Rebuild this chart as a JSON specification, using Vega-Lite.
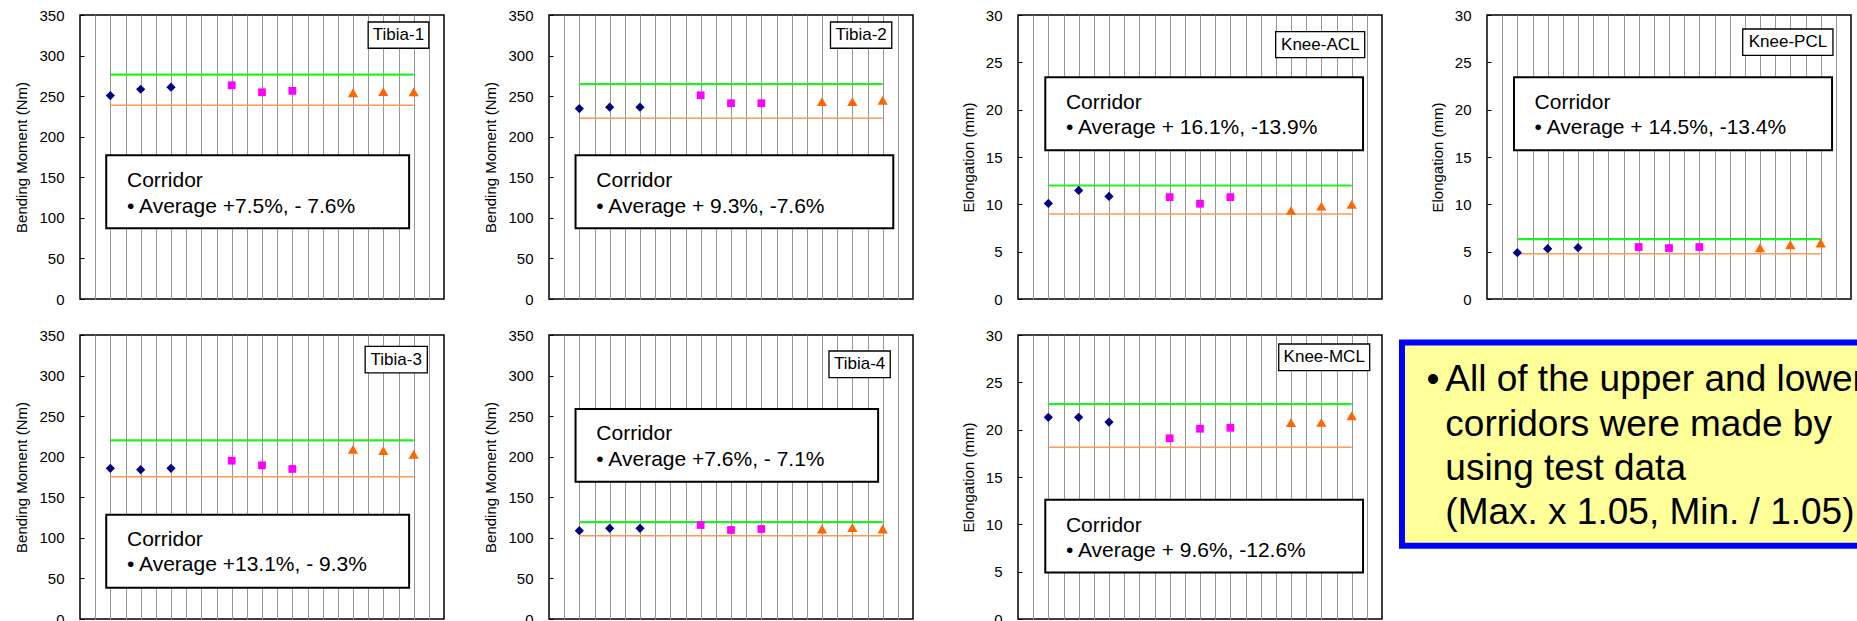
{
  "$schema": "https://vega.github.io/schema/vega-lite/v6.json",
  "padding": {"left": 14, "top": 7, "right": 0, "bottom": 0},
  "autosize": {"type": "pad"},
  "background": "#ffffff",
  "config": {
    "font": "Liberation Sans",
    "view": {"stroke": "#000000", "strokeWidth": 1.5},
    "axisX": {"gridColor": "#969696", "gridWidth": 1, "gridOpacity": 1},
    "axisY": {
      "grid": false, "domain": false,
      "tickSize": -4, "tickColor": "#000000", "tickWidth": 1,
      "labelPadding": 20, "labelFontSize": 15, "labelColor": "#000000",
      "titleFontSize": 15, "titleFontWeight": "normal", "titleColor": "#000000", "titlePadding": 9
    }
  },
  "data": {"values": [
    {"panel": "Tibia-1", "kind": "obs", "series": "A", "x": 2, "y": 250.7},
    {"panel": "Tibia-1", "kind": "obs", "series": "A", "x": 4, "y": 258.5},
    {"panel": "Tibia-1", "kind": "obs", "series": "A", "x": 6, "y": 261.0},
    {"panel": "Tibia-1", "kind": "obs", "series": "B", "x": 10, "y": 263.4},
    {"panel": "Tibia-1", "kind": "obs", "series": "B", "x": 12, "y": 254.8},
    {"panel": "Tibia-1", "kind": "obs", "series": "B", "x": 14, "y": 256.5},
    {"panel": "Tibia-1", "kind": "obs", "series": "C", "x": 18, "y": 254.2},
    {"panel": "Tibia-1", "kind": "obs", "series": "C", "x": 20, "y": 255.5},
    {"panel": "Tibia-1", "kind": "obs", "series": "C", "x": 22, "y": 255.3},
    {"panel": "Tibia-1", "kind": "upper", "x": 2, "x2": 22, "y": 276.6},
    {"panel": "Tibia-1", "kind": "lower", "x": 2, "x2": 22, "y": 238.8},
    {"panel": "Tibia-1", "kind": "box", "x": 1.73, "x2": 21.7, "y": 177.1, "y2": 87.1},
    {"panel": "Tibia-1", "kind": "note", "x": 3.1, "y": 137.7, "label": "Corridor"},
    {"panel": "Tibia-1", "kind": "note", "x": 3.1, "y": 106.4, "label": "• Average +7.5%, - 7.6%"},
    {"panel": "Tibia-1", "kind": "tag", "x": 19.0, "x2": 23.0, "y": 341.4, "y2": 309.0},
    {"panel": "Tibia-1", "kind": "tagtext", "x": 21.0, "y": 325.2, "label": "Tibia-1"},

    {"panel": "Tibia-2", "kind": "obs", "series": "A", "x": 2, "y": 234.7},
    {"panel": "Tibia-2", "kind": "obs", "series": "A", "x": 4, "y": 236.4},
    {"panel": "Tibia-2", "kind": "obs", "series": "A", "x": 6, "y": 236.4},
    {"panel": "Tibia-2", "kind": "obs", "series": "B", "x": 10, "y": 251.1},
    {"panel": "Tibia-2", "kind": "obs", "series": "B", "x": 12, "y": 241.3},
    {"panel": "Tibia-2", "kind": "obs", "series": "B", "x": 14, "y": 241.3},
    {"panel": "Tibia-2", "kind": "obs", "series": "C", "x": 18, "y": 243.3},
    {"panel": "Tibia-2", "kind": "obs", "series": "C", "x": 20, "y": 243.3},
    {"panel": "Tibia-2", "kind": "obs", "series": "C", "x": 22, "y": 244.8},
    {"panel": "Tibia-2", "kind": "upper", "x": 2, "x2": 22, "y": 264.7},
    {"panel": "Tibia-2", "kind": "lower", "x": 2, "x2": 22, "y": 222.8},
    {"panel": "Tibia-2", "kind": "box", "x": 1.75, "x2": 22.7, "y": 177.1, "y2": 87.1},
    {"panel": "Tibia-2", "kind": "note", "x": 3.12, "y": 137.7, "label": "Corridor"},
    {"panel": "Tibia-2", "kind": "note", "x": 3.12, "y": 106.4, "label": "• Average + 9.3%, -7.6%"},
    {"panel": "Tibia-2", "kind": "tag", "x": 18.56, "x2": 22.6, "y": 341.4, "y2": 309.0},
    {"panel": "Tibia-2", "kind": "tagtext", "x": 20.58, "y": 325.2, "label": "Tibia-2"},

    {"panel": "Knee-ACL", "kind": "obs", "series": "A", "x": 2, "y": 10.09},
    {"panel": "Knee-ACL", "kind": "obs", "series": "A", "x": 4, "y": 11.47},
    {"panel": "Knee-ACL", "kind": "obs", "series": "A", "x": 6, "y": 10.83},
    {"panel": "Knee-ACL", "kind": "obs", "series": "B", "x": 10, "y": 10.76},
    {"panel": "Knee-ACL", "kind": "obs", "series": "B", "x": 12, "y": 10.06},
    {"panel": "Knee-ACL", "kind": "obs", "series": "B", "x": 14, "y": 10.76},
    {"panel": "Knee-ACL", "kind": "obs", "series": "C", "x": 18, "y": 9.36},
    {"panel": "Knee-ACL", "kind": "obs", "series": "C", "x": 20, "y": 9.81},
    {"panel": "Knee-ACL", "kind": "obs", "series": "C", "x": 22, "y": 9.99},
    {"panel": "Knee-ACL", "kind": "upper", "x": 2, "x2": 22, "y": 11.99},
    {"panel": "Knee-ACL", "kind": "lower", "x": 2, "x2": 22, "y": 8.97},
    {"panel": "Knee-ACL", "kind": "box", "x": 1.8, "x2": 22.75, "y": 23.42, "y2": 15.71},
    {"panel": "Knee-ACL", "kind": "note", "x": 3.16, "y": 20.07, "label": "Corridor"},
    {"panel": "Knee-ACL", "kind": "note", "x": 3.16, "y": 17.4, "label": "• Average + 16.1%, -13.9%"},
    {"panel": "Knee-ACL", "kind": "tag", "x": 16.99, "x2": 22.86, "y": 28.24, "y2": 25.49},
    {"panel": "Knee-ACL", "kind": "tagtext", "x": 19.93, "y": 26.87, "label": "Knee-ACL"},

    {"panel": "Knee-PCL", "kind": "obs", "series": "A", "x": 2, "y": 4.89},
    {"panel": "Knee-PCL", "kind": "obs", "series": "A", "x": 4, "y": 5.31},
    {"panel": "Knee-PCL", "kind": "obs", "series": "A", "x": 6, "y": 5.42},
    {"panel": "Knee-PCL", "kind": "obs", "series": "B", "x": 10, "y": 5.49},
    {"panel": "Knee-PCL", "kind": "obs", "series": "B", "x": 12, "y": 5.38},
    {"panel": "Knee-PCL", "kind": "obs", "series": "B", "x": 14, "y": 5.49},
    {"panel": "Knee-PCL", "kind": "obs", "series": "C", "x": 18, "y": 5.42},
    {"panel": "Knee-PCL", "kind": "obs", "series": "C", "x": 20, "y": 5.73},
    {"panel": "Knee-PCL", "kind": "obs", "series": "C", "x": 22, "y": 5.91},
    {"panel": "Knee-PCL", "kind": "upper", "x": 2, "x2": 22, "y": 6.33},
    {"panel": "Knee-PCL", "kind": "lower", "x": 2, "x2": 22, "y": 4.78},
    {"panel": "Knee-PCL", "kind": "box", "x": 1.78, "x2": 22.75, "y": 23.42, "y2": 15.71},
    {"panel": "Knee-PCL", "kind": "note", "x": 3.14, "y": 20.07, "label": "Corridor"},
    {"panel": "Knee-PCL", "kind": "note", "x": 3.14, "y": 17.4, "label": "• Average + 14.5%, -13.4%"},
    {"panel": "Knee-PCL", "kind": "tag", "x": 16.86, "x2": 22.81, "y": 28.52, "y2": 25.74},
    {"panel": "Knee-PCL", "kind": "tagtext", "x": 19.84, "y": 27.13, "label": "Knee-PCL"},

    {"panel": "Tibia-3", "kind": "obs", "series": "A", "x": 2, "y": 185.7},
    {"panel": "Tibia-3", "kind": "obs", "series": "A", "x": 4, "y": 184.0},
    {"panel": "Tibia-3", "kind": "obs", "series": "A", "x": 6, "y": 185.7},
    {"panel": "Tibia-3", "kind": "obs", "series": "B", "x": 10, "y": 195.1},
    {"panel": "Tibia-3", "kind": "obs", "series": "B", "x": 12, "y": 189.4},
    {"panel": "Tibia-3", "kind": "obs", "series": "B", "x": 14, "y": 184.9},
    {"panel": "Tibia-3", "kind": "obs", "series": "C", "x": 18, "y": 209.1},
    {"panel": "Tibia-3", "kind": "obs", "series": "C", "x": 20, "y": 207.5},
    {"panel": "Tibia-3", "kind": "obs", "series": "C", "x": 22, "y": 202.9},
    {"panel": "Tibia-3", "kind": "upper", "x": 2, "x2": 22, "y": 220.2},
    {"panel": "Tibia-3", "kind": "lower", "x": 2, "x2": 22, "y": 175.4},
    {"panel": "Tibia-3", "kind": "box", "x": 1.73, "x2": 21.7, "y": 128.5, "y2": 38.6},
    {"panel": "Tibia-3", "kind": "note", "x": 3.1, "y": 90.0, "label": "Corridor"},
    {"panel": "Tibia-3", "kind": "note", "x": 3.1, "y": 59.2, "label": "• Average +13.1%, - 9.3%"},
    {"panel": "Tibia-3", "kind": "tag", "x": 18.8, "x2": 22.9, "y": 335.9, "y2": 303.2},
    {"panel": "Tibia-3", "kind": "tagtext", "x": 20.85, "y": 319.5, "label": "Tibia-3"},

    {"panel": "Tibia-4", "kind": "obs", "series": "A", "x": 2, "y": 108.9},
    {"panel": "Tibia-4", "kind": "obs", "series": "A", "x": 4, "y": 111.7},
    {"panel": "Tibia-4", "kind": "obs", "series": "A", "x": 6, "y": 111.7},
    {"panel": "Tibia-4", "kind": "obs", "series": "B", "x": 10, "y": 115.8},
    {"panel": "Tibia-4", "kind": "obs", "series": "B", "x": 12, "y": 109.7},
    {"panel": "Tibia-4", "kind": "obs", "series": "B", "x": 14, "y": 110.9},
    {"panel": "Tibia-4", "kind": "obs", "series": "C", "x": 18, "y": 110.9},
    {"panel": "Tibia-4", "kind": "obs", "series": "C", "x": 20, "y": 112.6},
    {"panel": "Tibia-4", "kind": "obs", "series": "C", "x": 22, "y": 110.9},
    {"panel": "Tibia-4", "kind": "upper", "x": 2, "x2": 22, "y": 119.5},
    {"panel": "Tibia-4", "kind": "lower", "x": 2, "x2": 22, "y": 102.7},
    {"panel": "Tibia-4", "kind": "box", "x": 1.75, "x2": 21.7, "y": 258.8, "y2": 169.2},
    {"panel": "Tibia-4", "kind": "note", "x": 3.12, "y": 220.6, "label": "Corridor"},
    {"panel": "Tibia-4", "kind": "note", "x": 3.12, "y": 188.9, "label": "• Average +7.6%, - 7.1%"},
    {"panel": "Tibia-4", "kind": "tag", "x": 18.46, "x2": 22.5, "y": 330.3, "y2": 297.4},
    {"panel": "Tibia-4", "kind": "tagtext", "x": 20.48, "y": 313.8, "label": "Tibia-4"},

    {"panel": "Knee-MCL", "kind": "obs", "series": "A", "x": 2, "y": 21.3},
    {"panel": "Knee-MCL", "kind": "obs", "series": "A", "x": 4, "y": 21.3},
    {"panel": "Knee-MCL", "kind": "obs", "series": "A", "x": 6, "y": 20.8},
    {"panel": "Knee-MCL", "kind": "obs", "series": "B", "x": 10, "y": 19.09},
    {"panel": "Knee-MCL", "kind": "obs", "series": "B", "x": 12, "y": 20.1},
    {"panel": "Knee-MCL", "kind": "obs", "series": "B", "x": 14, "y": 20.2},
    {"panel": "Knee-MCL", "kind": "obs", "series": "C", "x": 18, "y": 20.74},
    {"panel": "Knee-MCL", "kind": "obs", "series": "C", "x": 20, "y": 20.77},
    {"panel": "Knee-MCL", "kind": "obs", "series": "C", "x": 22, "y": 21.47},
    {"panel": "Knee-MCL", "kind": "upper", "x": 2, "x2": 22, "y": 22.7},
    {"panel": "Knee-MCL", "kind": "lower", "x": 2, "x2": 22, "y": 18.14},
    {"panel": "Knee-MCL", "kind": "box", "x": 1.8, "x2": 22.75, "y": 12.6, "y2": 4.92},
    {"panel": "Knee-MCL", "kind": "note", "x": 3.16, "y": 9.22, "label": "Corridor"},
    {"panel": "Knee-MCL", "kind": "note", "x": 3.16, "y": 6.58, "label": "• Average + 9.6%, -12.6%"},
    {"panel": "Knee-MCL", "kind": "tag", "x": 17.19, "x2": 23.19, "y": 29.05, "y2": 26.23},
    {"panel": "Knee-MCL", "kind": "tagtext", "x": 20.19, "y": 27.64, "label": "Knee-MCL"}
  ]},
  "spacing": 19,
  "vconcat": [
    {
      "spacing": 105,
      "bounds": "flush",
      "hconcat": [
        {
          "width": 364, "height": 284,
          "transform": [{"filter": "datum.panel === 'Tibia-1'"}],
          "encoding": {
            "x": {"field": "x", "type": "quantitative", "scale": {"domain": [0, 24], "nice": false}, "axis": {"title": null, "values": [1,2,3,4,5,6,7,8,9,10,11,12,13,14,15,16,17,18,19,20,21,22,23], "grid": true, "labels": false, "ticks": false, "domain": false}},
            "y": {"field": "y", "type": "quantitative", "scale": {"domain": [0, 350], "nice": false}, "axis": {"title": "Bending Moment (Nm)", "values": [0,50,100,150,200,250,300,350]}}
          },
          "layer": [
            {"transform": [{"filter": "datum.kind === 'upper'"}], "mark": {"type": "rule", "color": "#22f022", "strokeWidth": 2.2}, "encoding": {"x2": {"field": "x2"}}},
            {"transform": [{"filter": "datum.kind === 'lower'"}], "mark": {"type": "rule", "color": "#ff9955", "strokeWidth": 1.5}, "encoding": {"x2": {"field": "x2"}}},
            {"transform": [{"filter": "datum.kind === 'obs'"}], "mark": {"type": "point", "filled": true, "opacity": 1},
             "encoding": {
               "shape": {"field": "series", "type": "nominal", "scale": {"domain": ["A","B","C"], "range": ["diamond","square","triangle-up"]}, "legend": null},
               "color": {"field": "series", "type": "nominal", "scale": {"domain": ["A","B","C"], "range": ["#000080","#ff00ff","#ff6600"]}, "legend": null},
               "size": {"field": "series", "type": "nominal", "scale": {"type": "ordinal", "domain": ["A","B","C"], "range": [85, 60, 105]}, "legend": null}
             }},
            {"transform": [{"filter": "datum.kind === 'box'"}], "mark": {"type": "rect", "fill": "#ffffff", "stroke": "#000000", "strokeWidth": 2}, "encoding": {"x2": {"field": "x2"}, "y2": {"field": "y2"}}},
            {"transform": [{"filter": "datum.kind === 'tag'"}], "mark": {"type": "rect", "fill": "#ffffff", "stroke": "#000000", "strokeWidth": 1.3}, "encoding": {"x2": {"field": "x2"}, "y2": {"field": "y2"}}},
            {"transform": [{"filter": "datum.kind === 'note'"}], "mark": {"type": "text", "align": "left", "baseline": "alphabetic", "fontSize": 21, "color": "#000000"}, "encoding": {"text": {"field": "label"}}},
            {"transform": [{"filter": "datum.kind === 'tagtext'"}], "mark": {"type": "text", "align": "center", "baseline": "middle", "fontSize": 17, "color": "#000000"}, "encoding": {"text": {"field": "label"}}}
          ]
        },
        {
          "width": 364, "height": 284,
          "transform": [{"filter": "datum.panel === 'Tibia-2'"}],
          "encoding": {
            "x": {"field": "x", "type": "quantitative", "scale": {"domain": [0, 24], "nice": false}, "axis": {"title": null, "values": [1,2,3,4,5,6,7,8,9,10,11,12,13,14,15,16,17,18,19,20,21,22,23], "grid": true, "labels": false, "ticks": false, "domain": false}},
            "y": {"field": "y", "type": "quantitative", "scale": {"domain": [0, 350], "nice": false}, "axis": {"title": "Bending Moment (Nm)", "values": [0,50,100,150,200,250,300,350]}}
          },
          "layer": [
            {"transform": [{"filter": "datum.kind === 'upper'"}], "mark": {"type": "rule", "color": "#22f022", "strokeWidth": 2.2}, "encoding": {"x2": {"field": "x2"}}},
            {"transform": [{"filter": "datum.kind === 'lower'"}], "mark": {"type": "rule", "color": "#ff9955", "strokeWidth": 1.5}, "encoding": {"x2": {"field": "x2"}}},
            {"transform": [{"filter": "datum.kind === 'obs'"}], "mark": {"type": "point", "filled": true, "opacity": 1},
             "encoding": {
               "shape": {"field": "series", "type": "nominal", "scale": {"domain": ["A","B","C"], "range": ["diamond","square","triangle-up"]}, "legend": null},
               "color": {"field": "series", "type": "nominal", "scale": {"domain": ["A","B","C"], "range": ["#000080","#ff00ff","#ff6600"]}, "legend": null},
               "size": {"field": "series", "type": "nominal", "scale": {"type": "ordinal", "domain": ["A","B","C"], "range": [85, 60, 105]}, "legend": null}
             }},
            {"transform": [{"filter": "datum.kind === 'box'"}], "mark": {"type": "rect", "fill": "#ffffff", "stroke": "#000000", "strokeWidth": 2}, "encoding": {"x2": {"field": "x2"}, "y2": {"field": "y2"}}},
            {"transform": [{"filter": "datum.kind === 'tag'"}], "mark": {"type": "rect", "fill": "#ffffff", "stroke": "#000000", "strokeWidth": 1.3}, "encoding": {"x2": {"field": "x2"}, "y2": {"field": "y2"}}},
            {"transform": [{"filter": "datum.kind === 'note'"}], "mark": {"type": "text", "align": "left", "baseline": "alphabetic", "fontSize": 21, "color": "#000000"}, "encoding": {"text": {"field": "label"}}},
            {"transform": [{"filter": "datum.kind === 'tagtext'"}], "mark": {"type": "text", "align": "center", "baseline": "middle", "fontSize": 17, "color": "#000000"}, "encoding": {"text": {"field": "label"}}}
          ]
        },
        {
          "width": 364, "height": 284,
          "transform": [{"filter": "datum.panel === 'Knee-ACL'"}],
          "encoding": {
            "x": {"field": "x", "type": "quantitative", "scale": {"domain": [0, 24], "nice": false}, "axis": {"title": null, "values": [1,2,3,4,5,6,7,8,9,10,11,12,13,14,15,16,17,18,19,20,21,22,23], "grid": true, "labels": false, "ticks": false, "domain": false}},
            "y": {"field": "y", "type": "quantitative", "scale": {"domain": [0, 30], "nice": false}, "axis": {"title": "Elongation (mm)", "values": [0,5,10,15,20,25,30]}}
          },
          "layer": [
            {"transform": [{"filter": "datum.kind === 'upper'"}], "mark": {"type": "rule", "color": "#22f022", "strokeWidth": 2.2}, "encoding": {"x2": {"field": "x2"}}},
            {"transform": [{"filter": "datum.kind === 'lower'"}], "mark": {"type": "rule", "color": "#ff9955", "strokeWidth": 1.5}, "encoding": {"x2": {"field": "x2"}}},
            {"transform": [{"filter": "datum.kind === 'obs'"}], "mark": {"type": "point", "filled": true, "opacity": 1},
             "encoding": {
               "shape": {"field": "series", "type": "nominal", "scale": {"domain": ["A","B","C"], "range": ["diamond","square","triangle-up"]}, "legend": null},
               "color": {"field": "series", "type": "nominal", "scale": {"domain": ["A","B","C"], "range": ["#000080","#ff00ff","#ff6600"]}, "legend": null},
               "size": {"field": "series", "type": "nominal", "scale": {"type": "ordinal", "domain": ["A","B","C"], "range": [85, 60, 105]}, "legend": null}
             }},
            {"transform": [{"filter": "datum.kind === 'box'"}], "mark": {"type": "rect", "fill": "#ffffff", "stroke": "#000000", "strokeWidth": 2}, "encoding": {"x2": {"field": "x2"}, "y2": {"field": "y2"}}},
            {"transform": [{"filter": "datum.kind === 'tag'"}], "mark": {"type": "rect", "fill": "#ffffff", "stroke": "#000000", "strokeWidth": 1.3}, "encoding": {"x2": {"field": "x2"}, "y2": {"field": "y2"}}},
            {"transform": [{"filter": "datum.kind === 'note'"}], "mark": {"type": "text", "align": "left", "baseline": "alphabetic", "fontSize": 21, "color": "#000000"}, "encoding": {"text": {"field": "label"}}},
            {"transform": [{"filter": "datum.kind === 'tagtext'"}], "mark": {"type": "text", "align": "center", "baseline": "middle", "fontSize": 17, "color": "#000000"}, "encoding": {"text": {"field": "label"}}}
          ]
        },
        {
          "width": 364, "height": 284,
          "transform": [{"filter": "datum.panel === 'Knee-PCL'"}],
          "encoding": {
            "x": {"field": "x", "type": "quantitative", "scale": {"domain": [0, 24], "nice": false}, "axis": {"title": null, "values": [1,2,3,4,5,6,7,8,9,10,11,12,13,14,15,16,17,18,19,20,21,22,23], "grid": true, "labels": false, "ticks": false, "domain": false}},
            "y": {"field": "y", "type": "quantitative", "scale": {"domain": [0, 30], "nice": false}, "axis": {"title": "Elongation (mm)", "values": [0,5,10,15,20,25,30]}}
          },
          "layer": [
            {"transform": [{"filter": "datum.kind === 'upper'"}], "mark": {"type": "rule", "color": "#22f022", "strokeWidth": 2.2}, "encoding": {"x2": {"field": "x2"}}},
            {"transform": [{"filter": "datum.kind === 'lower'"}], "mark": {"type": "rule", "color": "#ff9955", "strokeWidth": 1.5}, "encoding": {"x2": {"field": "x2"}}},
            {"transform": [{"filter": "datum.kind === 'obs'"}], "mark": {"type": "point", "filled": true, "opacity": 1},
             "encoding": {
               "shape": {"field": "series", "type": "nominal", "scale": {"domain": ["A","B","C"], "range": ["diamond","square","triangle-up"]}, "legend": null},
               "color": {"field": "series", "type": "nominal", "scale": {"domain": ["A","B","C"], "range": ["#000080","#ff00ff","#ff6600"]}, "legend": null},
               "size": {"field": "series", "type": "nominal", "scale": {"type": "ordinal", "domain": ["A","B","C"], "range": [85, 60, 105]}, "legend": null}
             }},
            {"transform": [{"filter": "datum.kind === 'box'"}], "mark": {"type": "rect", "fill": "#ffffff", "stroke": "#000000", "strokeWidth": 2}, "encoding": {"x2": {"field": "x2"}, "y2": {"field": "y2"}}},
            {"transform": [{"filter": "datum.kind === 'tag'"}], "mark": {"type": "rect", "fill": "#ffffff", "stroke": "#000000", "strokeWidth": 1.3}, "encoding": {"x2": {"field": "x2"}, "y2": {"field": "y2"}}},
            {"transform": [{"filter": "datum.kind === 'note'"}], "mark": {"type": "text", "align": "left", "baseline": "alphabetic", "fontSize": 21, "color": "#000000"}, "encoding": {"text": {"field": "label"}}},
            {"transform": [{"filter": "datum.kind === 'tagtext'"}], "mark": {"type": "text", "align": "center", "baseline": "middle", "fontSize": 17, "color": "#000000"}, "encoding": {"text": {"field": "label"}}}
          ]
        }
      ]
    },
    {
      "spacing": 105,
      "bounds": "flush",
      "hconcat": [
        {
          "width": 364, "height": 284,
          "transform": [{"filter": "datum.panel === 'Tibia-3'"}],
          "encoding": {
            "x": {"field": "x", "type": "quantitative", "scale": {"domain": [0, 24], "nice": false}, "axis": {"title": null, "values": [1,2,3,4,5,6,7,8,9,10,11,12,13,14,15,16,17,18,19,20,21,22,23], "grid": true, "labels": false, "ticks": false, "domain": false}},
            "y": {"field": "y", "type": "quantitative", "scale": {"domain": [0, 350], "nice": false}, "axis": {"title": "Bending Moment (Nm)", "values": [0,50,100,150,200,250,300,350]}}
          },
          "layer": [
            {"transform": [{"filter": "datum.kind === 'upper'"}], "mark": {"type": "rule", "color": "#22f022", "strokeWidth": 2.2}, "encoding": {"x2": {"field": "x2"}}},
            {"transform": [{"filter": "datum.kind === 'lower'"}], "mark": {"type": "rule", "color": "#ff9955", "strokeWidth": 1.5}, "encoding": {"x2": {"field": "x2"}}},
            {"transform": [{"filter": "datum.kind === 'obs'"}], "mark": {"type": "point", "filled": true, "opacity": 1},
             "encoding": {
               "shape": {"field": "series", "type": "nominal", "scale": {"domain": ["A","B","C"], "range": ["diamond","square","triangle-up"]}, "legend": null},
               "color": {"field": "series", "type": "nominal", "scale": {"domain": ["A","B","C"], "range": ["#000080","#ff00ff","#ff6600"]}, "legend": null},
               "size": {"field": "series", "type": "nominal", "scale": {"type": "ordinal", "domain": ["A","B","C"], "range": [85, 60, 105]}, "legend": null}
             }},
            {"transform": [{"filter": "datum.kind === 'box'"}], "mark": {"type": "rect", "fill": "#ffffff", "stroke": "#000000", "strokeWidth": 2}, "encoding": {"x2": {"field": "x2"}, "y2": {"field": "y2"}}},
            {"transform": [{"filter": "datum.kind === 'tag'"}], "mark": {"type": "rect", "fill": "#ffffff", "stroke": "#000000", "strokeWidth": 1.3}, "encoding": {"x2": {"field": "x2"}, "y2": {"field": "y2"}}},
            {"transform": [{"filter": "datum.kind === 'note'"}], "mark": {"type": "text", "align": "left", "baseline": "alphabetic", "fontSize": 21, "color": "#000000"}, "encoding": {"text": {"field": "label"}}},
            {"transform": [{"filter": "datum.kind === 'tagtext'"}], "mark": {"type": "text", "align": "center", "baseline": "middle", "fontSize": 17, "color": "#000000"}, "encoding": {"text": {"field": "label"}}}
          ]
        },
        {
          "width": 364, "height": 284,
          "transform": [{"filter": "datum.panel === 'Tibia-4'"}],
          "encoding": {
            "x": {"field": "x", "type": "quantitative", "scale": {"domain": [0, 24], "nice": false}, "axis": {"title": null, "values": [1,2,3,4,5,6,7,8,9,10,11,12,13,14,15,16,17,18,19,20,21,22,23], "grid": true, "labels": false, "ticks": false, "domain": false}},
            "y": {"field": "y", "type": "quantitative", "scale": {"domain": [0, 350], "nice": false}, "axis": {"title": "Bending Moment (Nm)", "values": [0,50,100,150,200,250,300,350]}}
          },
          "layer": [
            {"transform": [{"filter": "datum.kind === 'upper'"}], "mark": {"type": "rule", "color": "#22f022", "strokeWidth": 2.2}, "encoding": {"x2": {"field": "x2"}}},
            {"transform": [{"filter": "datum.kind === 'lower'"}], "mark": {"type": "rule", "color": "#ff9955", "strokeWidth": 1.5}, "encoding": {"x2": {"field": "x2"}}},
            {"transform": [{"filter": "datum.kind === 'obs'"}], "mark": {"type": "point", "filled": true, "opacity": 1},
             "encoding": {
               "shape": {"field": "series", "type": "nominal", "scale": {"domain": ["A","B","C"], "range": ["diamond","square","triangle-up"]}, "legend": null},
               "color": {"field": "series", "type": "nominal", "scale": {"domain": ["A","B","C"], "range": ["#000080","#ff00ff","#ff6600"]}, "legend": null},
               "size": {"field": "series", "type": "nominal", "scale": {"type": "ordinal", "domain": ["A","B","C"], "range": [85, 60, 105]}, "legend": null}
             }},
            {"transform": [{"filter": "datum.kind === 'box'"}], "mark": {"type": "rect", "fill": "#ffffff", "stroke": "#000000", "strokeWidth": 2}, "encoding": {"x2": {"field": "x2"}, "y2": {"field": "y2"}}},
            {"transform": [{"filter": "datum.kind === 'tag'"}], "mark": {"type": "rect", "fill": "#ffffff", "stroke": "#000000", "strokeWidth": 1.3}, "encoding": {"x2": {"field": "x2"}, "y2": {"field": "y2"}}},
            {"transform": [{"filter": "datum.kind === 'note'"}], "mark": {"type": "text", "align": "left", "baseline": "alphabetic", "fontSize": 21, "color": "#000000"}, "encoding": {"text": {"field": "label"}}},
            {"transform": [{"filter": "datum.kind === 'tagtext'"}], "mark": {"type": "text", "align": "center", "baseline": "middle", "fontSize": 17, "color": "#000000"}, "encoding": {"text": {"field": "label"}}}
          ]
        },
        {
          "spacing": 17,
          "bounds": "flush",
          "hconcat": [
            {
              "width": 364, "height": 284,
              "transform": [{"filter": "datum.panel === 'Knee-MCL'"}],
              "encoding": {
                "x": {"field": "x", "type": "quantitative", "scale": {"domain": [0, 24], "nice": false}, "axis": {"title": null, "values": [1,2,3,4,5,6,7,8,9,10,11,12,13,14,15,16,17,18,19,20,21,22,23], "grid": true, "labels": false, "ticks": false, "domain": false}},
                "y": {"field": "y", "type": "quantitative", "scale": {"domain": [0, 30], "nice": false}, "axis": {"title": "Elongation (mm)", "values": [0,5,10,15,20,25,30]}}
              },
              "layer": [
                {"transform": [{"filter": "datum.kind === 'upper'"}], "mark": {"type": "rule", "color": "#22f022", "strokeWidth": 2.2}, "encoding": {"x2": {"field": "x2"}}},
                {"transform": [{"filter": "datum.kind === 'lower'"}], "mark": {"type": "rule", "color": "#ff9955", "strokeWidth": 1.5}, "encoding": {"x2": {"field": "x2"}}},
                {"transform": [{"filter": "datum.kind === 'obs'"}], "mark": {"type": "point", "filled": true, "opacity": 1},
                 "encoding": {
                   "shape": {"field": "series", "type": "nominal", "scale": {"domain": ["A","B","C"], "range": ["diamond","square","triangle-up"]}, "legend": null},
                   "color": {"field": "series", "type": "nominal", "scale": {"domain": ["A","B","C"], "range": ["#000080","#ff00ff","#ff6600"]}, "legend": null},
                   "size": {"field": "series", "type": "nominal", "scale": {"type": "ordinal", "domain": ["A","B","C"], "range": [85, 60, 105]}, "legend": null}
                 }},
                {"transform": [{"filter": "datum.kind === 'box'"}], "mark": {"type": "rect", "fill": "#ffffff", "stroke": "#000000", "strokeWidth": 2}, "encoding": {"x2": {"field": "x2"}, "y2": {"field": "y2"}}},
                {"transform": [{"filter": "datum.kind === 'tag'"}], "mark": {"type": "rect", "fill": "#ffffff", "stroke": "#000000", "strokeWidth": 1.3}, "encoding": {"x2": {"field": "x2"}, "y2": {"field": "y2"}}},
                {"transform": [{"filter": "datum.kind === 'note'"}], "mark": {"type": "text", "align": "left", "baseline": "alphabetic", "fontSize": 21, "color": "#000000"}, "encoding": {"text": {"field": "label"}}},
                {"transform": [{"filter": "datum.kind === 'tagtext'"}], "mark": {"type": "text", "align": "center", "baseline": "middle", "fontSize": 17, "color": "#000000"}, "encoding": {"text": {"field": "label"}}}
              ]
            },
            {
              "width": 459, "height": 284,
              "view": {"stroke": null},
              "data": {"values": [
                {"kind": "frame", "x": 0.65, "x2": 110, "y": 97.4, "y2": 25.8},
                {"kind": "line", "x": 6.0, "y": 80.4, "label": "•"},
                {"kind": "line", "x": 10.09, "y": 80.4, "label": "All of the upper and lower"},
                {"kind": "line", "x": 10.09, "y": 64.5, "label": "corridors were made by"},
                {"kind": "line", "x": 10.09, "y": 48.9, "label": "using test data"},
                {"kind": "line", "x": 10.09, "y": 33.3, "label": "(Max. x 1.05, Min. / 1.05)"}
              ]},
              "encoding": {
                "x": {"field": "x", "type": "quantitative", "scale": {"domain": [0, 100], "nice": false}, "axis": null},
                "y": {"field": "y", "type": "quantitative", "scale": {"domain": [0, 100], "nice": false}, "axis": null}
              },
              "layer": [
                {"transform": [{"filter": "datum.kind === 'frame'"}], "mark": {"type": "rect", "fill": "#ffff99", "stroke": "#0000ff", "strokeWidth": 6, "clip": true}, "encoding": {"x2": {"field": "x2"}, "y2": {"field": "y2"}}},
                {"transform": [{"filter": "datum.kind === 'line'"}], "mark": {"type": "text", "align": "left", "baseline": "alphabetic", "fontSize": 37, "color": "#000000", "clip": true}, "encoding": {"text": {"field": "label"}}}
              ]
            }
          ]
        }
      ]
    }
  ]
}
